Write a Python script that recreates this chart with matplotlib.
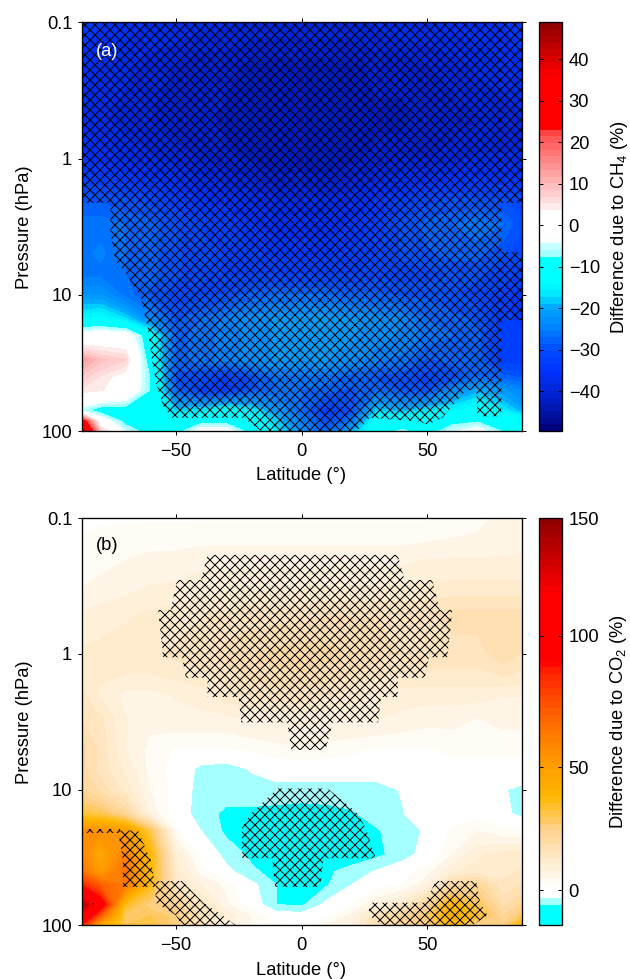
import numpy as np
import matplotlib
matplotlib.use('Agg')
import matplotlib.pyplot as plt

plt.rcParams['font.family'] = ['Liberation Sans', 'DejaVu Sans']
plt.rcParams['mathtext.fontset'] = 'custom'
plt.rcParams['mathtext.rm'] = 'Liberation Sans'
plt.rcParams['mathtext.default'] = 'regular'
plt.rcParams['font.size'] = 11
plt.rcParams['hatch.linewidth'] = 0.6

lats = [-87.5, -80, -70, -60, -50, -40, -30, -20, -10, 0, 10, 20, 30, 40, 50, 60, 70, 80, 87.5]
pressures = [0.1, 0.2, 0.5, 1, 2, 3, 5, 7, 10, 15, 20, 30, 40, 50, 70, 85, 100]

# difference due to CH4 (%), one row per pressure level
ch4_diff = np.array([
    [-34, -35, -36, -37, -37, -38, -38, -39, -39, -39, -39, -39, -38, -37, -37, -36, -36, -35, -34],
    [-36, -37, -38, -39, -40, -41, -41, -42, -42, -42, -42, -42, -41, -41, -40, -39, -38, -37, -36],
    [-37, -38, -39, -40, -41, -41, -42, -43, -43, -43, -43, -43, -42, -42, -41, -41, -40, -40, -39],
    [-35, -36, -37, -38, -39, -40, -41, -42, -43, -43, -43, -42, -41, -40, -40, -39, -38, -38, -38],
    [-29, -29, -30, -31, -33, -35, -36, -37, -38, -38, -38, -37, -35, -33, -31, -30, -30, -30, -31],
    [-26, -26, -27, -28, -30, -32, -33, -35, -36, -36, -36, -35, -33, -30, -28, -27, -26, -27, -30],
    [-26, -25, -27, -28, -30, -31, -32, -33, -34, -34, -34, -33, -32, -30, -29, -28, -28, -30, -31],
    [-26, -26, -27, -28, -30, -31, -32, -32, -32, -32, -32, -32, -31, -31, -31, -30, -30, -31, -33],
    [-22, -22, -26, -29, -31, -31, -30, -28, -27, -27, -27, -28, -28, -29, -29, -30, -31, -33, -34],
    [-14, -13, -17, -24, -29, -27, -25, -23, -22, -21, -21, -22, -23, -24, -27, -28, -29, -33, -34],
    [-1, 0, 0, -12, -28, -26, -25, -23, -22, -21, -21, -22, -23, -24, -26, -27, -28, -33, -33],
    [13, 9, 7, -11, -28, -26, -25, -23, -22, -22, -22, -23, -25, -26, -29, -28, -28, -33, -33],
    [8, 5, 2, -8, -29, -31, -32, -30, -26, -26, -26, -28, -29, -30, -31, -30, -27, -28, -29],
    [5, 4, 1, -8, -28, -32, -33, -29, -27, -27, -28, -29, -27, -29, -30, -24, -20, -22, -24],
    [-6, -10, -10, -10, -18, -17, -13, -16, -22, -27, -33, -30, -18, -20, -17, -15, -12, -16, -20],
    [30, 0, -9, -10, -10, -9, -9, -12, -18, -25, -30, -26, -12, -10, -10, -9, -8, -10, -11],
    [45, 8, -5, -10, -10, -2, -2, -10, -16, -23, -28, -20, -10, -7, -10, -5, -2, -8, -10],
])

# difference due to CO2 (%)
co2_diff = np.array([
    [2, 2, 2, 2, 2, 2, 2, 2, 2, 2, 2, 2, 2, 2, 2, 3, 4, 6, 7],
    [3, 4, 5, 6, 6, 7, 7, 7, 7, 7, 7, 7, 7, 7, 8, 8, 8, 8, 8],
    [8, 9, 10, 11, 12, 13, 14, 15, 15, 15, 16, 16, 16, 16, 16, 17, 17, 17, 17],
    [11, 12, 13, 13, 14, 15, 17, 19, 20, 21, 20, 19, 17, 16, 15, 15, 15, 18, 16],
    [14, 10, 7, 7, 8, 9, 12, 14, 15, 15, 14, 12, 10, 9, 9, 9, 9, 8, 8],
    [16, 14, 8, 6, 7, 7, 7, 8, 8, 9, 8, 8, 8, 7, 6, 6, 5, 6, 6],
    [20, 15, 8, 4, 2, 2, 2, 3, 4, 5, 4, 3, 2, 2, 2, 3, 3, 3, 3],
    [20, 15, 10, 4, 1, -5, -6, -3, 0, 0, 0, 0, 0, 0, 1, 1, 1, 1, 1],
    [22, 18, 12, 5, 1, -6, -6, -6, -6, -6, -6, -6, -6, -3, 1, 1, 1, -3, -5],
    [32, 30, 22, 7, 0, -6, -9, -9, -9.5, -10, -9.5, -8.5, -6, -4, 1, 1, 1, -2, -5],
    [55, 55, 50, 30, 3, -3.5, -9, -10, -10, -10, -10, -10, -8.5, -5, -3, 3, 5, 3, 3],
    [58, 45, 60, 38, 10, 1, -5, -9, -11, -11, -11, -11, -9, -6, -1, 5, 10, 12, 12],
    [65, 50, 65, 38, 12, 4, -2, -7, -10, -11, -9, -6, -3, 1, 4, 10, 12, 12, 14],
    [85, 70, 62, 36, 14, 8, 4, -2, -8, -10, -8.5, -3.5, 1, 2, 7, 20, 22, 14, 16],
    [145, 100, 35, 25, 24, 14, 6, 0, -8, -9, -2, 2, 8, 12, 22, 40, 30, 18, 22],
    [115, 70, 28, 30, 26, 16, 10, 5, 0, -1, 1, 6, 16, 22, 28, 42, 34, 22, 28],
    [85, 45, 30, 32, 25, 16, 8, 5, 3, 2, 6, 8, 18, 22, 26, 38, 20, 25, 40],
])

# stippled (hatched) areas, panel a: from the top down to hatch_a_bottom at each latitude
hatch_a_lat = [-87.5, -76, -76, -74, -70, -64, -61, -59.5, -57.5, -55, -51.5, -23, -16, 22, 27, 47, 50, 56, 65.5, 69.5, 70, 79.5]
hatch_a_bottom = [2.11, 2.11, 3.5, 5.6, 6.9, 10.3, 18, 30, 47, 66, 80, 80, 100, 100, 80, 85, 90, 80, 50, 50, 78, 78]
hatch_a_top_lat = [78, 87.5]
hatch_a_edge_p = [[0.1, 2.11], [4.83, 15.2]]

# panel b: pressure with left and right latitude of each patch
hatch_b = [
    ([0.187, 0.286, 0.286, 0.476, 0.476, 1.06, 1.06, 1.5, 1.5, 2.08, 2.08, 3.2, 3.2, 5.1],
     [-37.4, -40, -49.5, -52, -57, -55, -47.5, -46, -37.4, -37.4, -25, -24, -5.7, -4],
     [38.3, 41, 52, 55, 60, 58, 50.7, 49, 38.3, 38.3, 31.6, 30.5, 12.4, 9.6]),
    ([9.8, 14.7, 19, 32, 32, 52],
     [-9.6, -19.6, -23.6, -23.6, -11.6, -10.5],
     [10.4, 22, 25.5, 29.5, 8.8, 7.5]),
    ([19.6, 20.9], [-87.5, -87.5], [-72, -72]),
    ([20, 33, 52], [-73, -71, -71], [-65, -60, -58]),
    ([47, 68, 84, 100], [-58, -58, -50, -47.5], [-47.5, -39, -31.5, -26]),
    ([68, 72], [-84, -84], [-82.5, -82.5]),
    ([47, 68, 68, 84, 100], [53.5, 49, 26.7, 27, 32], [69.5, 71, 71, 74, 68]),
]

# colour scales: value, rgb
ch4_nodes = [(-49.6, (0, 0, .45)), (-42, (0, .12, .78)), (-35, (0, .2, 1)), (-30, (0, .3, 1)), (-25, (0, .5, 1)),
             (-20, (0, .65, 1)), (-17, (0, .9, 1)), (-14, (0, 1, 1)), (-8.01, (0, 1, 1)), (-8, (.55, 1, 1)),
             (-3.7, (.9, 1, 1)), (-3.6, (1, 1, 1)), (4, (1, 1, 1)), (4.1, (1, .93, .93)), (22, (1, .3, .3)),
             (23.5, (1, 0, 0)), (36, (1, 0, 0)), (48.8, (.55, 0, 0))]
co2_nodes = [(-14, (0, 1, 1)), (-8.01, (0, 1, 1)), (-8, (.65, 1, 1)), (-3.51, (.65, 1, 1)), (-3.5, (1, 1, 1)),
             (2, (1, 1, 1)), (5, (1, .97, .93)), (15, (1, .9, .75)), (25, (1, .82, .55)), (38, (1, .72, 0)),
             (50, (1, .62, 0)), (65, (1, .45, 0)), (85, (1, .15, 0)), (90, (1, 0, 0)), (118, (1, 0, 0)),
             (150, (.55, 0, 0))]


def band_colors(levels, nodes):
    mids = (np.array(levels[:-1]) + np.array(levels[1:])) / 2
    vals = [n[0] for n in nodes]
    return [tuple(np.interp(m, vals, [n[1][i] for n in nodes]) for i in range(3)) for m in mids]


ch4_levels = np.linspace(-49.6, 48.8, 62)

# the CO2 colour bar is not linear, these are the tick places along it (0 bottom, 1 top)
co2_frac = np.linspace(0, 1, 61)
co2_levels = np.interp(co2_frac, [0, 105 / 1222, 474 / 1222, 870 / 1222, 1], [-14, 0, 50, 100, 150])
co2_levels[:5] = [-14, -12, -10, -8, -3.5]

W, H = 630, 979
fig = plt.figure(figsize=(W / 120, (H + 0.01) / 120))


def px_axes(left, right, top, bottom):
    return fig.add_axes([left / W, 1 - bottom / H, (right - left) / W, (bottom - top) / H])


def style_ax(ax):
    ax.set_yscale('log')
    ax.set_ylim(100, 0.1)
    ax.set_xlim(-87.5, 87.5)
    ax.set_xticks([-50, 0, 50])
    ax.set_xticklabels(['\u221250', '0', '50'])
    ax.set_yticks([0.1, 1, 10, 100])
    ax.set_yticklabels(['0.1', '1', '10', '100'])
    ax.minorticks_off()
    ax.tick_params(top=True, right=True, direction='out', length=2.6, width=0.6, pad=3)
    ax.tick_params(axis='x', pad=4.5)
    ax.set_xlabel('Latitude (\u00b0)', labelpad=4.3)
    ax.set_ylabel('Pressure (hPa)', labelpad=5)
    for s in ax.spines.values():
        s.set_linewidth(0.8)


def style_cbar(cb, label):
    cb.ax.minorticks_off()
    cb.ax.tick_params(direction='in', length=2.6, width=0.6, pad=4, left=True, right=True)
    cb.outline.set_linewidth(0.8)
    cb.set_label(label, labelpad=5.5)


def hatch_patch(ax, p, left, right):
    ax.fill_betweenx(p, left, right, facecolor='none', edgecolor='k', hatch='xxxx', linewidth=0)


# panel a
ax1 = px_axes(81.5, 521.5, 22.5, 431)
cs1 = ax1.contourf(lats, pressures, ch4_diff, levels=ch4_levels, colors=band_colors(ch4_levels, ch4_nodes))
ax1.fill_between(hatch_a_lat, 0.1, hatch_a_bottom, facecolor='none', edgecolor='k', hatch='xxxx', linewidth=0)
for ps in hatch_a_edge_p:
    ax1.fill_between(hatch_a_top_lat, ps[0], ps[1], facecolor='none', edgecolor='k', hatch='xxxx', linewidth=0)
style_ax(ax1)
ax1.text(0.033, 0.928, '(a)', transform=ax1.transAxes, color='w', va='center')
cax1 = px_axes(538.5, 562, 22.5, 431)
cb1 = fig.colorbar(cs1, cax=cax1, ticks=np.arange(-40, 41, 10))
cb1.ax.set_yticklabels([str(t).replace('-', '\u2212') for t in range(-40, 41, 10)])
style_cbar(cb1, 'Difference due to CH$_4$ (%)')

# panel b
ax2 = px_axes(81.5, 521.5, 518, 925.5)
cs2 = ax2.contourf(lats, pressures, co2_diff, levels=co2_levels, colors=band_colors(co2_levels, co2_nodes))
for p, left, right in hatch_b:
    hatch_patch(ax2, p, left, right)
style_ax(ax2)
ax2.text(0.033, 0.932, '(b)', transform=ax2.transAxes, va='center')
cax2 = px_axes(538.5, 562, 518, 925.5)
cb2 = fig.colorbar(cs2, cax=cax2, ticks=[0, 50, 100, 150])
style_cbar(cb2, 'Difference due to CO$_2$ (%)')

plt.savefig('out.png', dpi=120)
